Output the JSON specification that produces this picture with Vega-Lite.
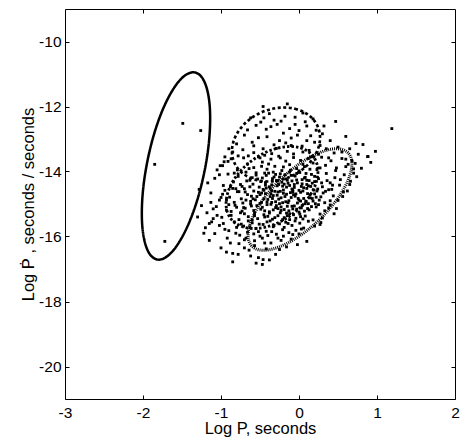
{
  "$schema": "https://vega.github.io/schema/vega-lite/v6.json",
  "width": 390,
  "height": 390,
  "autosize": {"type": "none"},
  "padding": {"left": 65, "top": 9, "right": 6, "bottom": 40},
  "background": "white",
  "config": {
    "locale": {"number": {"decimal": ".", "thousands": ",", "grouping": [3], "currency": ["$", ""], "minus": "-"}},
    "view": {"stroke": "black", "strokeWidth": 1},
    "font": "Liberation Sans",
    "axis": {
      "grid": false, "domain": false, "tickColor": "black", "tickSize": -4, "tickWidth": 1,
      "labelFont": "Liberation Sans", "titleFont": "Liberation Sans",
      "labelFontSize": 15.5, "titleFontSize": 16.5, "labelColor": "black", "titleColor": "black",
      "titleFontWeight": "normal"
    }
  },
  "datasets": {
    "ell": [
      {"e":"a","o":0,"x":-1.333,"y":-10.953},{"e":"a","o":1,"x":-1.247,"y":-11.097},{"e":"a","o":2,"x":-1.184,"y":-11.427},{"e":"a","o":3,"x":-1.147,"y":-11.921},{"e":"a","o":4,"x":-1.140,"y":-12.545},{"e":"a","o":5,"x":-1.162,"y":-13.257},{"e":"a","o":6,"x":-1.213,"y":-14.008},{"e":"a","o":7,"x":-1.288,"y":-14.746},{"e":"a","o":8,"x":-1.383,"y":-15.422},{"e":"a","o":9,"x":-1.492,"y":-15.990},{"e":"a","o":10,"x":-1.606,"y":-16.411},{"e":"a","o":11,"x":-1.718,"y":-16.655},{"e":"a","o":12,"x":-1.820,"y":-16.707},{"e":"a","o":13,"x":-1.907,"y":-16.563},{"e":"a","o":14,"x":-1.970,"y":-16.233},{"e":"a","o":15,"x":-2.007,"y":-15.739},{"e":"a","o":16,"x":-2.014,"y":-15.115},{"e":"a","o":17,"x":-1.992,"y":-14.403},{"e":"a","o":18,"x":-1.941,"y":-13.652},{"e":"a","o":19,"x":-1.866,"y":-12.914},{"e":"a","o":20,"x":-1.771,"y":-12.238},{"e":"a","o":21,"x":-1.662,"y":-11.670},{"e":"a","o":22,"x":-1.548,"y":-11.249},{"e":"a","o":23,"x":-1.436,"y":-11.005},
      {"e":"b","o":0,"x":-0.192,"y":-12.031},{"e":"b","o":1,"x":-0.052,"y":-12.070},{"e":"b","o":2,"x":0.071,"y":-12.184},{"e":"b","o":3,"x":0.170,"y":-12.364},{"e":"b","o":4,"x":0.237,"y":-12.600},{"e":"b","o":5,"x":0.268,"y":-12.875},{"e":"b","o":6,"x":0.260,"y":-13.169},{"e":"b","o":7,"x":0.214,"y":-13.464},{"e":"b","o":8,"x":0.134,"y":-13.738},{"e":"b","o":9,"x":0.025,"y":-13.974},{"e":"b","o":10,"x":-0.106,"y":-14.154},{"e":"b","o":11,"x":-0.251,"y":-14.268},{"e":"b","o":12,"x":-0.398,"y":-14.307},{"e":"b","o":13,"x":-0.538,"y":-14.268},{"e":"b","o":14,"x":-0.661,"y":-14.154},{"e":"b","o":15,"x":-0.760,"y":-13.974},{"e":"b","o":16,"x":-0.827,"y":-13.738},{"e":"b","o":17,"x":-0.858,"y":-13.464},{"e":"b","o":18,"x":-0.850,"y":-13.169},{"e":"b","o":19,"x":-0.805,"y":-12.875},{"e":"b","o":20,"x":-0.724,"y":-12.600},{"e":"b","o":21,"x":-0.615,"y":-12.364},{"e":"b","o":22,"x":-0.484,"y":-12.184},{"e":"b","o":23,"x":-0.340,"y":-12.070},
      {"e":"c","o":0,"x":-0.115,"y":-13.231},{"e":"c","o":1,"x":0.017,"y":-13.274},{"e":"c","o":2,"x":0.125,"y":-13.400},{"e":"c","o":3,"x":0.200,"y":-13.600},{"e":"c","o":4,"x":0.239,"y":-13.861},{"e":"c","o":5,"x":0.237,"y":-14.166},{"e":"c","o":6,"x":0.196,"y":-14.492},{"e":"c","o":7,"x":0.118,"y":-14.819},{"e":"c","o":8,"x":0.008,"y":-15.123},{"e":"c","o":9,"x":-0.126,"y":-15.384},{"e":"c","o":10,"x":-0.275,"y":-15.585},{"e":"c","o":11,"x":-0.429,"y":-15.711},{"e":"c","o":12,"x":-0.577,"y":-15.754},{"e":"c","o":13,"x":-0.709,"y":-15.711},{"e":"c","o":14,"x":-0.817,"y":-15.585},{"e":"c","o":15,"x":-0.893,"y":-15.384},{"e":"c","o":16,"x":-0.931,"y":-15.123},{"e":"c","o":17,"x":-0.929,"y":-14.819},{"e":"c","o":18,"x":-0.888,"y":-14.492},{"e":"c","o":19,"x":-0.810,"y":-14.166},{"e":"c","o":20,"x":-0.700,"y":-13.861},{"e":"c","o":21,"x":-0.566,"y":-13.600},{"e":"c","o":22,"x":-0.417,"y":-13.400},{"e":"c","o":23,"x":-0.263,"y":-13.274},
      {"e":"d","o":0,"x":0.630,"y":-13.428},{"e":"d","o":1,"x":0.674,"y":-13.637},{"e":"d","o":2,"x":0.672,"y":-13.929},{"e":"d","o":3,"x":0.626,"y":-14.285},{"e":"d","o":4,"x":0.538,"y":-14.680},{"e":"d","o":5,"x":0.414,"y":-15.088},{"e":"d","o":6,"x":0.263,"y":-15.480},{"e":"d","o":7,"x":0.095,"y":-15.830},{"e":"d","o":8,"x":-0.079,"y":-16.114},{"e":"d","o":9,"x":-0.247,"y":-16.313},{"e":"d","o":10,"x":-0.396,"y":-16.413},{"e":"d","o":11,"x":-0.518,"y":-16.407},{"e":"d","o":12,"x":-0.604,"y":-16.296},{"e":"d","o":13,"x":-0.648,"y":-16.087},{"e":"d","o":14,"x":-0.646,"y":-15.795},{"e":"d","o":15,"x":-0.600,"y":-15.439},{"e":"d","o":16,"x":-0.512,"y":-15.044},{"e":"d","o":17,"x":-0.388,"y":-14.636},{"e":"d","o":18,"x":-0.237,"y":-14.244},{"e":"d","o":19,"x":-0.069,"y":-13.894},{"e":"d","o":20,"x":0.105,"y":-13.610},{"e":"d","o":21,"x":0.273,"y":-13.411},{"e":"d","o":22,"x":0.422,"y":-13.311},{"e":"d","o":23,"x":0.544,"y":-13.317}
    ],
    "pts": [
      {"x":-1.49,"y":-12.52},{"x":-1.26,"y":-12.74},{"x":-1.85,"y":-13.78},{"x":-1.72,"y":-16.15},{"x":1.19,"y":-12.68},
      {"x":-1.01,"y":-13.82},{"x":-0.91,"y":-13.69},{"x":-1.13,"y":-14.95},{"x":-1.0,"y":-14.8},{"x":-1.1,"y":-15.15},{"x":-1.25,"y":-15.05},
      {"x":-0.46,"y":-12.0},{"x":-0.15,"y":-11.92},{"x":-0.62,"y":-12.35},{"x":-0.32,"y":-12.42},{"x":-0.05,"y":-12.33},{"x":0.47,"y":-12.46},{"x":-0.7,"y":-12.88},{"x":-0.42,"y":-12.7},{"x":-0.2,"y":-12.82},{"x":0.1,"y":-12.6},{"x":-0.55,"y":-12.58},{"x":0.6,"y":-12.92},{"x":0.3,"y":-12.84},{"x":-0.1,"y":-12.97},{"x":-0.28,"y":-12.55},{"x":0.0,"y":-12.74},{"x":0.18,"y":-12.38},{"x":-0.38,"y":-12.22},{"x":-0.85,"y":-13.4},{"x":-0.6,"y":-13.1},{"x":-0.46,"y":-13.3},{"x":-0.25,"y":-13.05},{"x":-0.1,"y":-13.2},{"x":0.05,"y":-13.4},{"x":0.2,"y":-13.1},{"x":0.35,"y":-13.3},{"x":0.73,"y":-13.14},{"x":0.82,"y":-13.17},{"x":0.5,"y":-13.25},{"x":-0.35,"y":-13.45},{"x":0.1,"y":-13.05},{"x":-0.72,"y":-13.33},{"x":0.25,"y":-13.47},{"x":-0.15,"y":-13.38},{"x":0.45,"y":-13.43},{"x":0.885,"y":-13.54},{"x":0.6,"y":-13.62},{"x":0.76,"y":-13.47},{"x":0.92,"y":-13.72},{"x":-0.52,"y":-12.96},{"x":-0.32,"y":-13.18},{"x":0.15,"y":-12.9},{"x":-0.8,"y":-13.15},{"x":-0.95,"y":-13.55},{"x":0.4,"y":-13.05},{"x":-0.58,"y":-13.42},{"x":0.32,"y":-12.6},{"x":-0.05,"y":-12.55},
      {"x":-0.98,"y":-13.82},{"x":-0.87,"y":-13.61},{"x":-0.79,"y":-13.95},{"x":-0.71,"y":-13.58},{"x":-0.66,"y":-13.77},{"x":-0.58,"y":-13.88},{"x":-0.52,"y":-13.55},{"x":-0.47,"y":-13.71},{"x":-0.41,"y":-13.93},{"x":-0.36,"y":-13.62},{"x":-0.31,"y":-13.84},{"x":-0.26,"y":-13.53},{"x":-0.22,"y":-13.97},{"x":-0.17,"y":-13.68},{"x":-0.12,"y":-13.79},{"x":-0.07,"y":-13.57},{"x":-0.03,"y":-13.91},{"x":0.02,"y":-13.66},{"x":0.07,"y":-13.85},{"x":0.12,"y":-13.6},{"x":0.18,"y":-13.74},{"x":0.23,"y":-13.94},{"x":0.29,"y":-13.56},{"x":0.34,"y":-13.81},{"x":0.41,"y":-13.67},{"x":0.48,"y":-13.89},{"x":0.55,"y":-13.6},{"x":0.63,"y":-13.78},{"x":0.7,"y":-13.92},{"x":0.88,"y":-13.54},{"x":-0.44,"y":-13.5},{"x":0.0,"y":-13.98},
      {"x":-1.08,"y":-14.21},{"x":-0.97,"y":-14.43},{"x":-0.91,"y":-14.08},{"x":-0.84,"y":-14.32},{"x":-0.78,"y":-14.15},{"x":-0.73,"y":-14.46},{"x":-0.68,"y":-14.02},{"x":-0.63,"y":-14.27},{"x":-0.59,"y":-14.39},{"x":-0.55,"y":-14.11},{"x":-0.51,"y":-14.48},{"x":-0.47,"y":-14.2},{"x":-0.43,"y":-14.34},{"x":-0.39,"y":-14.05},{"x":-0.35,"y":-14.41},{"x":-0.32,"y":-14.17},{"x":-0.28,"y":-14.29},{"x":-0.24,"y":-14.07},{"x":-0.21,"y":-14.45},{"x":-0.17,"y":-14.23},{"x":-0.14,"y":-14.36},{"x":-0.1,"y":-14.12},{"x":-0.06,"y":-14.49},{"x":-0.03,"y":-14.26},{"x":0.01,"y":-14.03},{"x":0.04,"y":-14.38},{"x":0.08,"y":-14.18},{"x":0.12,"y":-14.44},{"x":0.16,"y":-14.09},{"x":0.2,"y":-14.31},{"x":0.25,"y":-14.22},{"x":0.3,"y":-14.47},{"x":0.35,"y":-14.06},{"x":0.4,"y":-14.35},{"x":0.46,"y":-14.19},{"x":0.52,"y":-14.42},{"x":0.58,"y":-14.1},{"x":0.66,"y":-14.3},{"x":0.74,"y":-14.16},{"x":-0.88,"y":-14.47},{"x":-0.6,"y":-14.19},{"x":-0.26,"y":-14.4},{"x":0.1,"y":-14.27},{"x":-0.42,"y":-14.12},{"x":-0.12,"y":-14.02},
      {"x":-1.13,"y":-14.66},{"x":-1.02,"y":-14.88},{"x":-0.95,"y":-14.58},{"x":-0.89,"y":-14.79},{"x":-0.83,"y":-14.95},{"x":-0.79,"y":-14.62},{"x":-0.74,"y":-14.84},{"x":-0.7,"y":-14.53},{"x":-0.66,"y":-14.71},{"x":-0.62,"y":-14.92},{"x":-0.58,"y":-14.6},{"x":-0.54,"y":-14.77},{"x":-0.5,"y":-14.98},{"x":-0.46,"y":-14.55},{"x":-0.43,"y":-14.68},{"x":-0.4,"y":-14.86},{"x":-0.37,"y":-14.51},{"x":-0.33,"y":-14.74},{"x":-0.3,"y":-14.93},{"x":-0.27,"y":-14.63},{"x":-0.23,"y":-14.81},{"x":-0.2,"y":-14.57},{"x":-0.16,"y":-14.7},{"x":-0.13,"y":-14.9},{"x":-0.09,"y":-14.54},{"x":-0.05,"y":-14.76},{"x":-0.02,"y":-14.97},{"x":0.02,"y":-14.64},{"x":0.06,"y":-14.83},{"x":0.1,"y":-14.52},{"x":0.14,"y":-14.72},{"x":0.18,"y":-14.91},{"x":0.23,"y":-14.6},{"x":0.28,"y":-14.78},{"x":0.33,"y":-14.96},{"x":0.38,"y":-14.56},{"x":0.44,"y":-14.75},{"x":0.5,"y":-14.89},{"x":0.57,"y":-14.63},{"x":-0.98,"y":-14.7},{"x":-0.72,"y":-14.97},{"x":-0.48,"y":-14.66},{"x":-0.25,"y":-14.99},{"x":-0.08,"y":-14.62},{"x":0.12,"y":-14.99},{"x":-0.56,"y":-14.87},{"x":-0.35,"y":-14.59},{"x":0.2,"y":-14.69},{"x":-0.85,"y":-14.52},{"x":0.4,"y":-14.9},
      {"x":-1.18,"y":-15.27},{"x":-1.06,"y":-15.08},{"x":-0.99,"y":-15.41},{"x":-0.93,"y":-15.19},{"x":-0.87,"y":-15.35},{"x":-0.82,"y":-15.04},{"x":-0.77,"y":-15.48},{"x":-0.73,"y":-15.22},{"x":-0.69,"y":-15.13},{"x":-0.65,"y":-15.39},{"x":-0.61,"y":-15.06},{"x":-0.57,"y":-15.29},{"x":-0.53,"y":-15.45},{"x":-0.49,"y":-15.16},{"x":-0.45,"y":-15.33},{"x":-0.41,"y":-15.02},{"x":-0.38,"y":-15.24},{"x":-0.34,"y":-15.47},{"x":-0.3,"y":-15.11},{"x":-0.27,"y":-15.36},{"x":-0.23,"y":-15.2},{"x":-0.19,"y":-15.42},{"x":-0.15,"y":-15.07},{"x":-0.12,"y":-15.3},{"x":-0.08,"y":-15.15},{"x":-0.04,"y":-15.44},{"x":0.0,"y":-15.25},{"x":0.04,"y":-15.05},{"x":0.08,"y":-15.37},{"x":0.13,"y":-15.18},{"x":0.18,"y":-15.49},{"x":0.22,"y":-15.09},{"x":0.27,"y":-15.31},{"x":0.33,"y":-15.21},{"x":0.4,"y":-15.03},{"x":0.48,"y":-15.14},{"x":-1.1,"y":-15.45},{"x":-0.9,"y":-15.02},{"x":-0.6,"y":-15.49},{"x":-0.36,"y":-15.01},{"x":-0.16,"y":-15.28},{"x":0.05,"y":-15.46},{"x":-0.7,"y":-15.3},{"x":-0.44,"y":-15.4},{"x":0.3,"y":-15.43},
      {"x":-1.2,"y":-15.73},{"x":-1.08,"y":-15.91},{"x":-0.97,"y":-15.6},{"x":-0.9,"y":-15.82},{"x":-0.83,"y":-15.55},{"x":-0.76,"y":-15.96},{"x":-0.71,"y":-15.68},{"x":-0.66,"y":-15.87},{"x":-0.6,"y":-15.58},{"x":-0.55,"y":-15.75},{"x":-0.5,"y":-15.99},{"x":-0.46,"y":-15.63},{"x":-0.42,"y":-15.84},{"x":-0.37,"y":-15.52},{"x":-0.33,"y":-15.7},{"x":-0.29,"y":-15.93},{"x":-0.25,"y":-15.61},{"x":-0.21,"y":-15.79},{"x":-0.17,"y":-15.56},{"x":-0.13,"y":-15.88},{"x":-0.09,"y":-15.66},{"x":-0.04,"y":-15.81},{"x":0.01,"y":-15.59},{"x":0.06,"y":-15.74},{"x":0.12,"y":-15.53},{"x":0.2,"y":-15.68},{"x":0.28,"y":-15.57},{"x":-1.02,"y":-15.66},{"x":-0.8,"y":-15.72},{"x":-0.58,"y":-15.92},{"x":-0.4,"y":-15.97},{"x":-0.2,"y":-15.99},{"x":0.0,"y":-15.92},
      {"x":-1.15,"y":-16.12},{"x":-1.0,"y":-16.35},{"x":-0.92,"y":-16.05},{"x":-0.85,"y":-16.52},{"x":-0.77,"y":-16.22},{"x":-0.7,"y":-16.1},{"x":-0.64,"y":-16.42},{"x":-0.57,"y":-16.28},{"x":-0.52,"y":-16.65},{"x":-0.47,"y":-16.05},{"x":-0.42,"y":-16.38},{"x":-0.36,"y":-16.2},{"x":-0.3,"y":-16.55},{"x":-0.23,"y":-16.12},{"x":-0.16,"y":-16.32},{"x":-0.1,"y":-16.08},{"x":-0.02,"y":-16.25},{"x":0.1,"y":-16.15},{"x":-0.55,"y":-16.82},{"x":-0.85,"y":-16.78},{"x":-0.38,"y":-16.72},{"x":-0.46,"y":-16.71},{"x":-0.47,"y":-16.86},{"x":-0.78,"y":-16.55},
      {"x":-0.49,"y":-14.31},{"x":-0.45,"y":-14.58},{"x":-0.41,"y":-14.94},{"x":-0.38,"y":-15.28},{"x":-0.34,"y":-14.22},{"x":-0.31,"y":-14.61},{"x":-0.29,"y":-15.05},{"x":-0.26,"y":-14.85},{"x":-0.22,"y":-14.33},{"x":-0.19,"y":-15.17},{"x":-0.16,"y":-14.48},{"x":-0.14,"y":-14.96},{"x":-0.11,"y":-14.65},{"x":-0.07,"y":-15.33},{"x":-0.05,"y":-14.14},{"x":-0.01,"y":-14.83},{"x":0.03,"y":-15.12},{"x":0.06,"y":-14.5},{"x":0.09,"y":-14.92},{"x":0.13,"y":-14.28},{"x":0.16,"y":-15.08},{"x":0.19,"y":-14.57},{"x":-0.47,"y":-15.1},{"x":-0.43,"y":-14.42},{"x":-0.37,"y":-14.77},{"x":-0.33,"y":-15.18},{"x":-0.28,"y":-14.44},{"x":-0.24,"y":-15.27},{"x":-0.2,"y":-14.67},{"x":-0.18,"y":-14.1},{"x":-0.15,"y":-15.36},{"x":-0.1,"y":-14.8},{"x":-0.06,"y":-14.4},{"x":-0.03,"y":-15.16},{"x":0.0,"y":-14.58},{"x":0.04,"y":-14.25},{"x":0.07,"y":-15.22},{"x":0.11,"y":-14.68},{"x":0.15,"y":-14.46},{"x":0.21,"y":-14.99},{"x":-0.52,"y":-14.64},{"x":-0.58,"y":-15.2},{"x":-0.63,"y":-14.47},{"x":-0.68,"y":-14.88},{"x":-0.55,"y":-14.04},{"x":-0.4,"y":-15.38},{"x":-0.3,"y":-14.09},{"x":-0.12,"y":-15.48},{"x":0.02,"y":-14.91},{"x":0.26,"y":-14.88},{"x":-0.35,"y":-14.95},{"x":-0.21,"y":-14.96},{"x":-0.09,"y":-14.29},{"x":0.09,"y":-14.06},{"x":-0.45,"y":-14.84},{"x":-0.62,"y":-15.0},{"x":-0.75,"y":-14.4},{"x":-0.8,"y":-15.1},
      {"x":0.65,"y":-14.4},{"x":0.56,"y":-14.77},{"x":0.27,"y":-15.63},{"x":0.45,"y":-15.3},{"x":0.62,"y":-14.6},{"x":0.7,"y":-14.05},{"x":0.8,"y":-13.9},
      {"x":-0.83,"y":-14.05},{"x":-0.77,"y":-14.62},{"x":-0.71,"y":-15.11},{"x":-0.67,"y":-14.29},{"x":-0.64,"y":-13.91},{"x":-0.61,"y":-14.76},{"x":-0.57,"y":-15.36},{"x":-0.53,"y":-14.23},{"x":-0.5,"y":-14.71},{"x":-0.48,"y":-13.84},{"x":-0.44,"y":-15.21},{"x":-0.42,"y":-14.51},{"x":-0.39,"y":-13.77},{"x":-0.36,"y":-14.68},{"x":-0.33,"y":-14.02},{"x":-0.31,"y":-15.42},{"x":-0.28,"y":-14.73},{"x":-0.25,"y":-14.17},{"x":-0.23,"y":-15.09},{"x":-0.2,"y":-13.86},{"x":-0.18,"y":-14.77},{"x":-0.15,"y":-14.27},{"x":-0.13,"y":-15.21},{"x":-0.11,"y":-13.96},{"x":-0.08,"y":-14.58},{"x":-0.06,"y":-15.06},{"x":-0.04,"y":-14.69},{"x":-0.02,"y":-14.35},{"x":0.01,"y":-15.31},{"x":0.03,"y":-14.46},{"x":0.05,"y":-13.78},{"x":0.08,"y":-14.99},{"x":0.1,"y":-14.4},{"x":0.14,"y":-13.93},{"x":0.17,"y":-14.83},{"x":0.2,"y":-14.15},{"x":0.24,"y":-14.54},{"x":0.27,"y":-13.89},{"x":0.31,"y":-14.66},{"x":0.36,"y":-14.28},{"x":0.42,"y":-14.55},{"x":0.47,"y":-13.97},{"x":0.53,"y":-14.25},{"x":0.6,"y":-13.85},{"x":0.68,"y":-13.68},
      {"x":-0.93,"y":-14.88},{"x":-0.87,"y":-15.23},{"x":-0.81,"y":-14.53},{"x":-0.75,"y":-15.27},{"x":-0.69,"y":-14.63},{"x":-0.65,"y":-15.52},{"x":-0.59,"y":-14.84},{"x":-0.54,"y":-15.05},{"x":-0.51,"y":-15.62},{"x":-0.48,"y":-14.95},{"x":-0.44,"y":-14.05},{"x":-0.41,"y":-15.55},{"x":-0.38,"y":-14.47},{"x":-0.34,"y":-14.83},{"x":-0.32,"y":-15.66},{"x":-0.29,"y":-14.28},{"x":-0.27,"y":-15.14},{"x":-0.24,"y":-14.61},{"x":-0.21,"y":-15.48},{"x":-0.19,"y":-14.39},{"x":-0.17,"y":-14.93},{"x":-0.14,"y":-15.6},{"x":-0.12,"y":-14.43},{"x":-0.09,"y":-15.07},{"x":-0.07,"y":-14.71},{"x":-0.05,"y":-15.52},{"x":-0.03,"y":-14.06},{"x":0.0,"y":-14.88},{"x":0.02,"y":-15.39},{"x":0.05,"y":-14.6},{"x":0.07,"y":-14.2},{"x":0.11,"y":-15.14},{"x":0.14,"y":-14.81},{"x":0.17,"y":-14.36},{"x":0.22,"y":-14.79},{"x":0.25,"y":-15.02},{"x":0.29,"y":-14.35},{"x":0.34,"y":-14.61},{"x":0.38,"y":-15.12},{"x":0.43,"y":-14.42},
      {"x":-0.66,"y":-12.72},{"x":-0.58,"y":-13.21},{"x":-0.49,"y":-12.48},{"x":-0.41,"y":-12.93},{"x":-0.36,"y":-12.62},{"x":-0.29,"y":-13.29},{"x":-0.23,"y":-12.45},{"x":-0.17,"y":-13.12},{"x":-0.12,"y":-12.68},{"x":-0.07,"y":-13.46},{"x":-0.02,"y":-12.88},{"x":0.04,"y":-13.22},{"x":0.08,"y":-12.47},{"x":0.13,"y":-13.35},{"x":0.22,"y":-12.73},{"x":0.27,"y":-13.2},{"x":-0.78,"y":-13.52},{"x":-0.65,"y":-13.52},{"x":-0.5,"y":-13.58},{"x":-0.24,"y":-13.58},{"x":0.15,"y":-13.55},{"x":0.38,"y":-13.58},{"x":0.55,"y":-13.4},{"x":-0.9,"y":-13.3},{"x":-0.45,"y":-12.35},{"x":-0.18,"y":-12.3},{"x":0.05,"y":-12.2},{"x":0.65,"y":-13.3},{"x":0.98,"y":-13.38},{"x":0.72,"y":-13.75},
      {"x":-1.05,"y":-15.35},{"x":-0.95,"y":-15.78},{"x":-0.88,"y":-16.2},{"x":-0.81,"y":-15.9},{"x":-0.74,"y":-15.62},{"x":-0.68,"y":-16.05},{"x":-0.63,"y":-15.7},{"x":-0.57,"y":-16.13},{"x":-0.52,"y":-15.85},{"x":-0.44,"y":-16.2},{"x":-0.35,"y":-15.85},{"x":-0.27,"y":-16.05},{"x":-0.19,"y":-15.72},{"x":-0.08,"y":-15.94},{"x":0.03,"y":-15.77},{"x":-1.12,"y":-15.55},{"x":-0.93,"y":-16.48},{"x":-0.62,"y":-16.6},{"x":-0.25,"y":-16.4},{"x":-0.7,"y":-16.35},
      {"x":-1.28,"y":-14.55},{"x":-1.22,"y":-15.9},{"x":-1.17,"y":-14.35},{"x":-1.05,"y":-13.95},{"x":-1.15,"y":-15.6},{"x":-1.3,"y":-15.4},{"x":-1.02,"y":-14.1},{"x":-0.96,"y":-13.7}
    ]
  },
  "layer": [
    {
      "data": {"name": "ell"},
      "mark": {"type": "line", "interpolate": "cardinal-closed", "color": "black"},
      "encoding": {
        "x": {"field": "x", "type": "quantitative", "scale": {"domain": [-3, 2], "nice": false, "zero": false},
              "axis": {"orient": "bottom", "values": [-3, -2, -1, 0, 1, 2], "title": "Log P, seconds", "labelPadding": 10, "labelFlush": false, "titlePadding": 0}},
        "y": {"field": "y", "type": "quantitative", "scale": {"domain": [-21, -9], "nice": false, "zero": false},
              "axis": {"orient": "left", "values": [-20, -18, -16, -14, -12, -10], "title": "Log Ṗ , seconds / seconds", "labelPadding": 8, "labelFlush": false, "titlePadding": 2}},
        "detail": {"field": "e", "type": "nominal"},
        "order": {"field": "o", "type": "quantitative"},
        "strokeDash": {"field": "e", "type": "nominal", "scale": {"domain": ["a", "b", "c", "d"], "range": [[1, 0], [3, 2.5], [2.5, 2], [1, 1]]}, "legend": null},
        "strokeWidth": {"field": "e", "type": "nominal", "scale": {"domain": ["a", "b", "c", "d"], "range": [2.5, 3, 2.5, 3]}, "legend": null}
      }
    },
    {
      "data": {"name": "pts"},
      "mark": {"type": "point", "shape": "square", "filled": true, "size": 8, "color": "black", "opacity": 1},
      "encoding": {
        "x": {"field": "x", "type": "quantitative", "scale": {"domain": [-3, 2], "nice": false, "zero": false},
              "axis": {"orient": "top", "values": [-2, -1, 0, 1], "labels": false, "title": null}},
        "y": {"field": "y", "type": "quantitative", "scale": {"domain": [-21, -9], "nice": false, "zero": false},
              "axis": {"orient": "right", "values": [-20, -18, -16, -14, -12, -10], "labels": false, "title": null}}
      }
    }
  ],
  "resolve": {"axis": {"x": "independent", "y": "independent"}}
}
